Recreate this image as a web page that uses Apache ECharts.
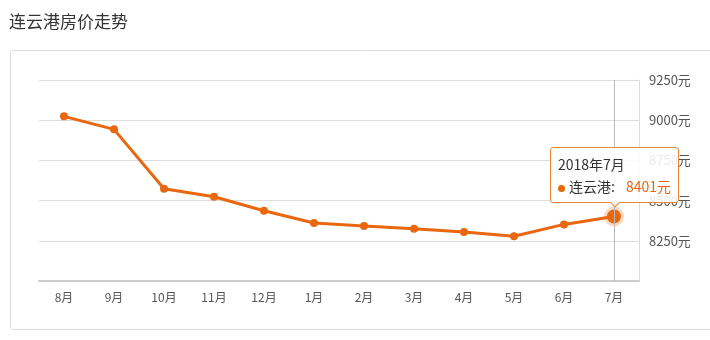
<!DOCTYPE html>
<html>
<head>
<meta charset="utf-8">
<script src="https://cdn.jsdelivr.net/npm/echarts@6/dist/echarts.min.js"></script>
<style>
html,body{margin:0;padding:0;background:#fff;}
#c{width:710px;height:340px;}
</style>
</head>
<body>
<div id="c"></div>
<script>
var title = '连云港房价走势';
var seriesName = '连云港';
var categories = ['8月','9月','10月','11月','12月','1月','2月','3月','4月','5月','6月','7月'];
var prices = [9024, 8943, 8574, 8524, 8437, 8361, 8342, 8325, 8305, 8278, 8352, 8401];
var tipTitle = '2018年7月';
var unit = '元';

var orange = '#e8670f';
var chart = echarts.init(document.getElementById('c'));

var data = prices.map(function (v, i) {
  if (i === prices.length - 1) {
    return { value: v, symbolSize: 14, itemStyle: { color: orange, borderColor: 'rgba(232,103,15,0.25)', borderWidth: 6 } };
  }
  return v;
});

chart.setOption({
  animation: false,
  textStyle: { fontFamily: '"Noto Sans CJK SC", "Noto Sans", sans-serif' },
  title: {
    text: title, left: 4, top: 8,
    textStyle: { fontSize: 17, fontWeight: 'normal', color: '#333', fontFamily: '"Noto Sans CJK SC", sans-serif' }
  },
  graphic: [{
    type: 'rect', z: -10, silent: true,
    shape: { x: 10.5, y: 50.5, width: 720, height: 279, r: 3 },
    style: { fill: '#fff', stroke: '#dcdcdc', lineWidth: 1 }
  }],
  grid: { left: 39, right: 71, top: 80, bottom: 59 },
  tooltip: {
    trigger: 'item',
    triggerOn: 'none',
    alwaysShowContent: true,
    position: 'top',
    backgroundColor: 'rgba(255,255,255,0.88)',
    borderColor: '#e8873a',
    borderWidth: 1,
    padding: [5, 7],
    extraCssText: 'box-shadow:none;border-radius:3px;margin-top:6px;',
    textStyle: { fontSize: 14, color: '#333' },
    formatter: function (p) {
      return '<div style="line-height:22px;font-size:14px;color:#333;font-family:\'Noto Sans CJK SC\',sans-serif">' + tipTitle + '<br/>' +
        '<span style="display:inline-block;width:7px;height:7px;border-radius:50%;background:' + orange + ';margin-right:4px;vertical-align:middle"></span>' +
        seriesName + ':<span style="color:' + orange + ';margin-left:11px">' + p.value + unit + '</span></div>';
    }
  },
  xAxis: {
    type: 'category',
    data: categories,
    boundaryGap: true,
    axisLine: { lineStyle: { color: '#cccccc', width: 2 } },
    axisTick: { alignWithLabel: true, length: 4, lineStyle: { color: '#cccccc' } },
    axisLabel: { color: '#555', fontSize: 12, margin: 10 },
    axisPointer: {
      show: true, value: '7月', status: 'show', type: 'line', triggerTooltip: false,
      lineStyle: { color: '#bbbbbb', width: 1, type: 'solid' },
      label: { show: false }
    }
  },
  yAxis: {
    type: 'value',
    position: 'right',
    min: 8000, max: 9250, interval: 250,
    axisLine: { show: true, lineStyle: { color: '#dddddd' } },
    axisTick: { show: false },
    axisLabel: {
      color: '#555', fontSize: 13, margin: 10, showMinLabel: false,
      formatter: function (v) { return v + unit; }
    },
    splitLine: { lineStyle: { color: '#dddddd' } }
  },
  series: [{
    name: seriesName,
    type: 'line',
    data: data,
    symbol: 'circle',
    symbolSize: 8,
    itemStyle: { color: orange },
    lineStyle: { color: orange, width: 3 },
    emphasis: { disabled: true }
  }]
});

chart.dispatchAction({ type: 'showTip', seriesIndex: 0, dataIndex: prices.length - 1 });
</script>
</body>
</html>
